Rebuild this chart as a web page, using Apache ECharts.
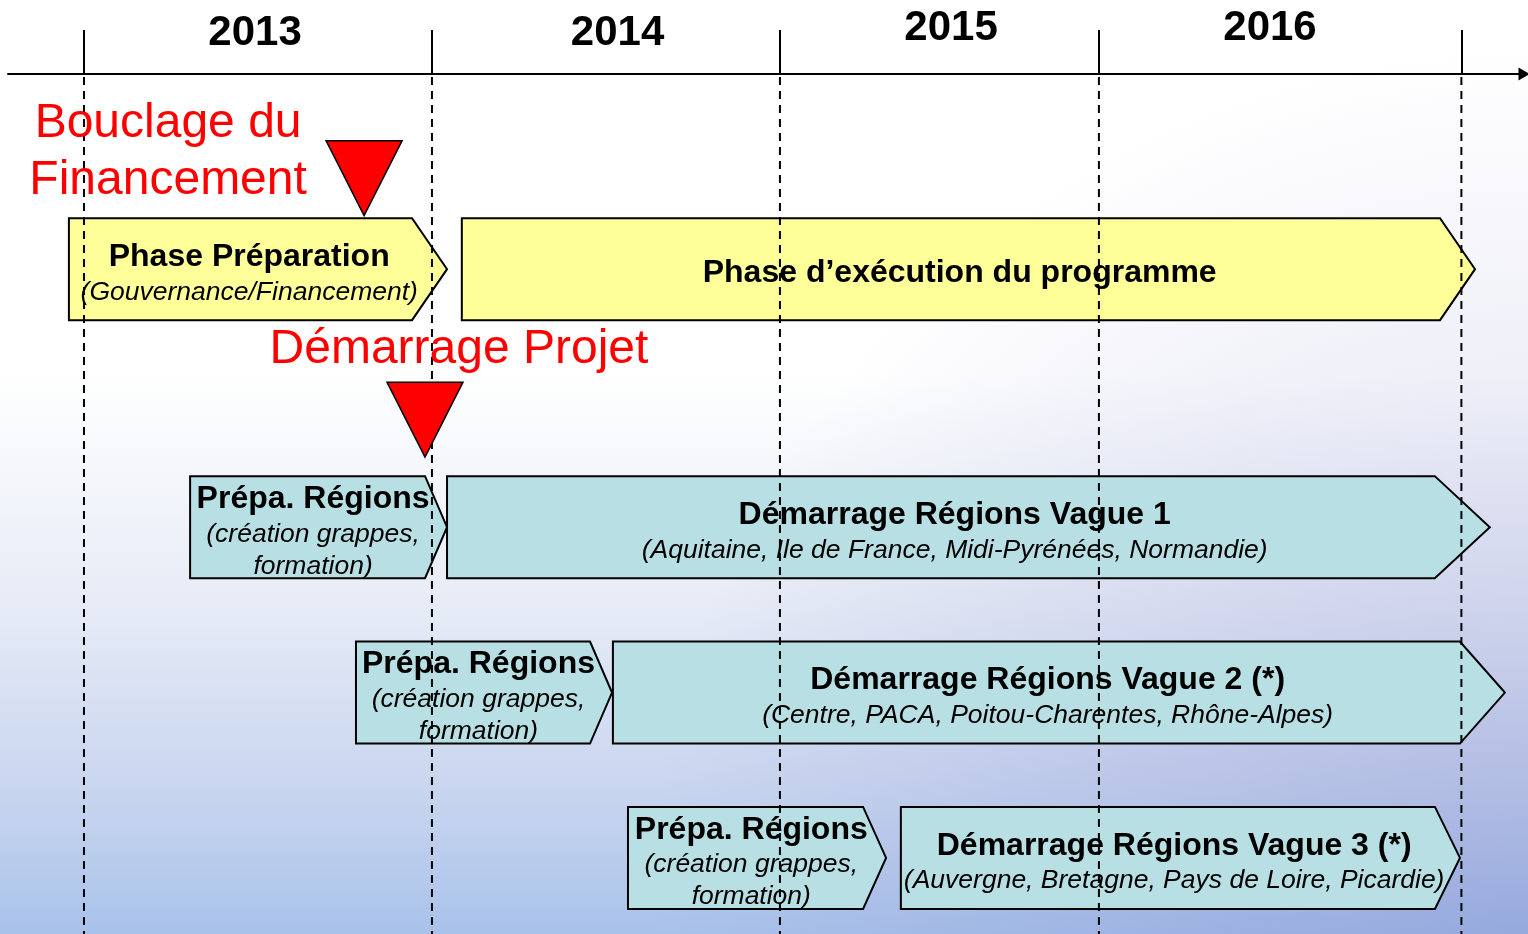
<!DOCTYPE html>
<html>
<head>
<meta charset="utf-8">
<title>Calendrier du programme</title>
<script src="https://cdn.jsdelivr.net/npm/echarts@6/dist/echarts.min.js"></script>
<style>
  html, body { margin: 0; padding: 0; }
  #chart-planning { width: 1528px; height: 934px; }
</style>
</head>
<body>
<div id="chart-planning"></div>
<script>
// time unit: months since Jan 2013 (year edges as drawn on the slide)
const years = ['2013', '2014', '2015', '2016']
const yearEdges = [0, 12, 24, 35, 47.5]
const yearLabelAt = [5.9, 18.4, 29.9, 40.9]

const taskTitles = [
  'Phase Préparation',
  'Phase d’exécution du programme',
  'Prépa. Régions',
  'Démarrage Régions Vague 1',
  'Prépa. Régions',
  'Démarrage Régions Vague 2 (*)',
  'Prépa. Régions',
  'Démarrage Régions Vague 3 (*)'
]
const taskNotes = [
  '(Gouvernance/Financement)',
  '',
  '(création grappes,\nformation)',
  '(Aquitaine, Ile de France, Midi-Pyrénées, Normandie)',
  '(création grappes,\nformation)',
  '(Centre, PACA, Poitou-Charentes, Rhône-Alpes)',
  '(création grappes,\nformation)',
  '(Auvergne, Bretagne, Pays de Loire, Picardie)'
]
const taskStart = [-0.52, 13.03, 3.66, 12.52, 9.38, 18.24, 18.76, 28.17]
const taskEnd = [12.52, 47.97, 12.52, 48.48, 18.21, 49.0, 27.66, 47.45]
const taskLane = [0, 0, 1, 1, 2, 2, 3, 3]
const laneY = [1.18, 2.74, 3.74, 4.74]

const milestoneNames = ['Bouclage du\nFinancement', 'Démarrage Projet']
const milestoneAt = [9.66, 11.76]
const milestoneY = [0.63, 2.09]

// styles
const FONT = '"Liberation Sans", Arial, Helvetica, sans-serif'
const X_MIN = -2.62
const X_MAX = 49.59
const Y_MAX = 5.2
const BAR_H = 0.617
const tipDepth = [35, 35, 22, 55, 22, 45, 23, 25]
const milestoneLabelOffset = [[-196, -26], [34, -70]]

var myChart = echarts.init(document.getElementById('chart-planning'))

function renderTask (params, api) {
  var i = api.value(3)
  var lane = api.value(2)
  var p0 = api.coord([api.value(0), lane])
  var p1 = api.coord([api.value(1), lane])
  var h = api.size([0, BAR_H])[1] / 2
  var tip = tipDepth[i]
  var y = p0[1]
  var points = [
    [p0[0], y - h], [p1[0] - tip, y - h], [p1[0], y],
    [p1[0] - tip, y + h], [p0[0], y + h]
  ]
  var text = '{b|' + taskTitles[i] + '}'
  if (taskNotes[i]) {
    text += '\n' + taskNotes[i].split('\n').map(function (l) { return '{i|' + l + '}' }).join('\n')
  }
  return {
    type: 'group',
    children: [
      {
        type: 'polygon',
        shape: { points: points },
        style: {
          fill: lane === laneY[0] ? '#ffff99' : '#b8dfe3',
          stroke: '#000',
          lineWidth: 2
        }
      },
      {
        type: 'text',
        x: (p0[0] + p1[0] - tip / 2) / 2,
        y: y + 4,
        style: {
          text: text,
          align: 'center',
          verticalAlign: 'middle',
          rich: {
            b: { fontSize: 32, fontWeight: 'bold', fontFamily: FONT, fill: '#000', lineHeight: 38 },
            i: { fontSize: 26.5, fontStyle: 'italic', fontFamily: FONT, fill: '#000', lineHeight: 32 }
          }
        }
      }
    ]
  }
}

function renderEdge (params, api) {
  var a = api.coord([api.value(0), 0])
  var b = api.coord([api.value(0), Y_MAX])
  return {
    type: 'line',
    shape: { x1: a[0], y1: a[1] + 3, x2: b[0], y2: b[1] },
    style: { stroke: '#000', lineWidth: 2, lineDash: [8, 6] }
  }
}

var option = {
  animation: false,
  backgroundColor: {
    type: 'linear', x: 0, y: 0, x2: 0, y2: 1,
    colorStops: [
      { offset: 0, color: '#ffffff' },
      { offset: 0.4, color: '#ffffff' },
      { offset: 0.65, color: '#e6ebf6' },
      { offset: 0.85, color: '#c8d5ef' },
      { offset: 1, color: '#a9c2ea' }
    ]
  },
  graphic: [{
    type: 'rect',
    silent: true,
    z: 0,
    shape: { x: 0, y: 0, width: 1528, height: 934 },
    style: {
      fill: {
        type: 'radial', x: 1, y: 1, r: 0.95,
        colorStops: [
          { offset: 0, color: 'rgba(100,105,190,0.28)' },
          { offset: 1, color: 'rgba(100,105,190,0)' }
        ]
      }
    }
  }],
  grid: { left: 8, right: 6, top: 74, bottom: 0 },
  xAxis: {
    type: 'value',
    position: 'top',
    min: X_MIN,
    max: X_MAX,
    splitLine: { show: false },
    axisLine: {
      show: true,
      onZero: false,
      symbol: ['none', 'triangle'],
      symbolSize: [13, 11],
      symbolOffset: [0, 2],
      lineStyle: { color: '#000', width: 2 }
    },
    axisTick: {
      show: true,
      customValues: yearEdges,
      length: 44,
      lineStyle: { color: '#000', width: 2 }
    },
    axisLabel: {
      customValues: yearLabelAt,
      margin: 20,
      color: '#000',
      fontSize: 42,
      fontWeight: 'bold',
      fontFamily: FONT,
      formatter: function (v) {
        for (var k = 0; k < yearLabelAt.length; k++) {
          if (Math.abs(yearLabelAt[k] - v) < 0.01) return '{' + (k < 2 ? 'lo' : 'hi') + '|' + years[k] + '}'
        }
        return ''
      },
      rich: {
        lo: { fontSize: 42, fontWeight: 'bold', fontFamily: FONT, color: '#000' },
        hi: { fontSize: 42, fontWeight: 'bold', fontFamily: FONT, color: '#000', padding: [0, 0, 5, 0] }
      }
    }
  },
  yAxis: { type: 'value', inverse: true, min: 0, max: Y_MAX, show: false },
  series: [
    {
      type: 'custom',
      name: 'tâches',
      z: 2,
      silent: true,
      renderItem: renderTask,
      encode: { x: [0, 1], y: 2 },
      data: taskTitles.map(function (t, i) {
        return [taskStart[i], taskEnd[i], laneY[taskLane[i]], i]
      })
    },
    {
      type: 'custom',
      name: 'années',
      z: 3,
      silent: true,
      renderItem: renderEdge,
      encode: { x: 0 },
      data: yearEdges.map(function (e) { return [e] })
    },
    {
      type: 'scatter',
      name: 'jalons',
      z: 4,
      silent: true,
      symbol: 'path://M0 0L76 0L38 75Z',
      symbolSize: [76, 75],
      symbolKeepAspect: false,
      itemStyle: { color: '#ff0000', borderColor: '#000', borderWidth: 1.5, opacity: 1 },
      data: milestoneAt.map(function (x, i) {
        return {
          value: [x, milestoneY[i]],
          label: {
            show: true,
            position: 'inside',
            offset: milestoneLabelOffset[i],
            formatter: milestoneNames[i],
            align: 'center',
            verticalAlign: 'middle',
            color: '#ff0000',
            fontSize: 48,
            lineHeight: 57,
            fontFamily: FONT
          }
        }
      })
    }
  ]
}

myChart.setOption(option)
</script>
</body>
</html>
